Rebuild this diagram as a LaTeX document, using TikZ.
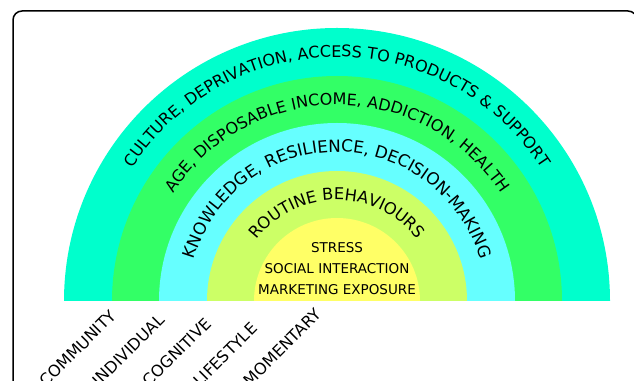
\documentclass[tikz,border=0pt]{standalone}
\usepackage{fontspec}
\setsansfont{DejaVu Sans}
\usetikzlibrary{decorations.text}

\definecolor{ringA}{HTML}{00FFCC}
\definecolor{ringB}{HTML}{33FF66}
\definecolor{ringC}{HTML}{66FFFF}
\definecolor{ringD}{HTML}{CCFF66}
\definecolor{ringE}{HTML}{FFFF66}

\tikzset{
  ringtext/.style 2 args={decorate, decoration={text along path, text align=center, text={|\sffamily\fontsize{#1}{#1}\selectfont|#2}}},
  inner/.style={font=\sffamily\fontsize{13.5}{13.5}\selectfont, inner sep=0pt},
  levelname/.style={font=\sffamily\fontsize{16}{16}\selectfont, rotate=45, anchor=north west, inner sep=0pt}
}

\begin{document}
\begin{tikzpicture}[x=1pt, y=1pt, font=\sffamily]
        \useasboundingbox (0,0) rectangle (634,380);
        \draw[line width=1.5pt, rounded corners=9pt] (13,369) rectangle (637,-40);
        % rings, outer to inner
        \foreach \r/\c in {273/ringA, 225/ringB, 178/ringC, 130/ringD, 83/ringE}
            \fill[\c] ({337-\r},79) arc[start angle=180, end angle=0, radius=\r] -- cycle;
        \path[ringtext={16}{CULTURE, DEPRIVATION, ACCESS TO PRODUCTS {\&} SUPPORT}] (93,79) arc[start angle=180, end angle=0, radius=244];
        \path[ringtext={16}{AGE, DISPOSABLE INCOME, ADDICTION, HEALTH}] (141,79) arc[start angle=180, end angle=0, radius=196];
        \path[ringtext={16.8}{KNOWLEDGE, RESILIENCE, DECISION-MAKING}] (188,79) arc[start angle=180, end angle=0, radius=149];
        \path[ringtext={16.3}{ROUTINE BEHAVIOURS}] (236,79) arc[start angle=180, end angle=0, radius=101];
        \node[inner] (stress) at (337,132) {STRESS};
        \node[inner] (social) at (337,111) {SOCIAL INTERACTION};
        \node[inner] (marketing) at (337,90) {MARKETING EXPOSURE};
        \foreach \x/\n/\t in {38/community/COMMUNITY, 91/individual/INDIVIDUAL, 141/cognitive/COGNITIVE, 192/lifestyle/LIFESTYLE, 242/momentary/MOMENTARY}
            \node[levelname] (\n) at (\x,1) {\t};
    \end{tikzpicture}
\end{document}
